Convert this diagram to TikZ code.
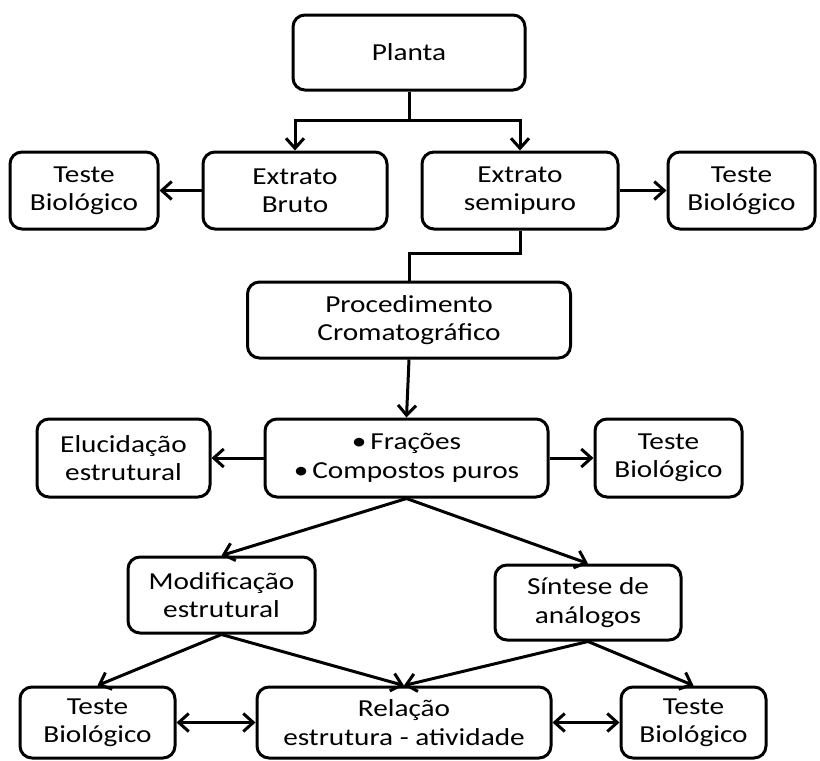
\documentclass[tikz,border=0pt]{standalone}
\usepackage{fontspec}
\setmainfont{Carlito}[FakeStretch=1.2]
\usetikzlibrary{arrows.meta}

\tikzset{
  caixa/.style={draw, rounded corners=6pt, line width=1.5pt, align=center,
    inner sep=0pt, font=\fontsize{12.2}{14.2}\selectfont},
  linha/.style={line width=1.5pt},
  seta/.style={line width=1.5pt, -{Straight Barb[length=5pt,width=9pt,line width=1.5pt]}},
  dupla/.style={line width=1.5pt, {Straight Barb[length=5pt,width=9pt,line width=1.5pt]}-{Straight Barb[length=5pt,width=9pt,line width=1.5pt]}}
}

\begin{document}
\begin{tikzpicture}[x=0.5pt,y=-0.5pt]
		%%%%% START %%%%%
		\useasboundingbox (0,0) rectangle (820,761);
		
		\node[caixa, minimum width=116pt, minimum height=37.5pt] (planta) at (409,52.5) {Planta};
		
		\node[caixa, minimum width=74pt, minimum height=38.5pt] (testeA) at (84,190.5) {Teste\\Biológico};
		\node[caixa, minimum width=92pt, minimum height=38.5pt] (bruto) at (295,190.5) {Extrato\\Bruto};
		\node[caixa, minimum width=98pt, minimum height=38.5pt] (semipuro) at (520,190.5) {Extrato\\semipuro};
		\node[caixa, minimum width=73.5pt, minimum height=38.5pt] (testeB) at (741.5,190.5) {Teste\\Biológico};
		
		\node[caixa, minimum width=161.5pt, minimum height=38pt] (proc) at (409,320) {Procedimento\\Cromatográfico};
		
		\node[caixa, minimum width=86.5pt, minimum height=39pt] (eluc) at (123.5,458) {Elucidação\\estrutural};
		\node[caixa, minimum width=141.5pt, minimum height=39pt] (fracoes) at (406.5,458) {\textbullet\,Frações\\\textbullet\,Compostos puros};
		\node[caixa, minimum width=73.5pt, minimum height=39pt] (testeC) at (668.5,458) {Teste\\Biológico};
		
		\node[caixa, minimum width=93.5pt, minimum height=38pt] (modif) at (221.5,595) {Modificação\\estrutural};
		\node[caixa, minimum width=93pt, minimum height=37.5pt] (sintese) at (588,602.5) {Síntese de\\análogos};
		
		\node[caixa, minimum width=77.5pt, minimum height=35.5pt] (testeD) at (97.5,722.5) {Teste\\Biológico};
		\node[caixa, minimum width=147pt, minimum height=35.5pt] (relacao) at (404,722.5) {Relação\\estrutura - atividade};
		\node[caixa, minimum width=72.5pt, minimum height=35.5pt] (testeE) at (693.5,722.5) {Teste\\Biológico};
		
		\coordinate (garfo) at (409,120);
		\coordinate (dobra) at (409,253);
		
		\draw[linha] (planta.south) -- (garfo);
		\draw[seta] (garfo) -| (bruto.north);
		\draw[seta] (garfo) -| (semipuro.north);
		\draw[seta] (bruto.west) -- (testeA.east);
		\draw[seta] (semipuro.east) -- (testeB.west);
		
		\draw[linha] (semipuro.south) |- (dobra) -- (proc.north);
		\draw[seta] (proc.south) -- (fracoes.north);
		\draw[seta] (fracoes.west) -- (eluc.east);
		\draw[seta] (fracoes.east) -- (testeC.west);
		
		\draw[seta] (fracoes.south) -- (modif.north);
		\draw[seta] (fracoes.south) -- (sintese.north);
		\draw[seta] (modif.south) -- (testeD.north);
		\draw[seta] (modif.south) -- (relacao.north);
		\draw[seta] (sintese.south) -- (relacao.north);
		\draw[seta] (sintese.south) -- (testeE.north);
		
		\draw[dupla] (testeD.east) -- (relacao.west);
		\draw[dupla] (relacao.east) -- (testeE.west);
		%%%%% END %%%%%
	\end{tikzpicture}
\end{document}
